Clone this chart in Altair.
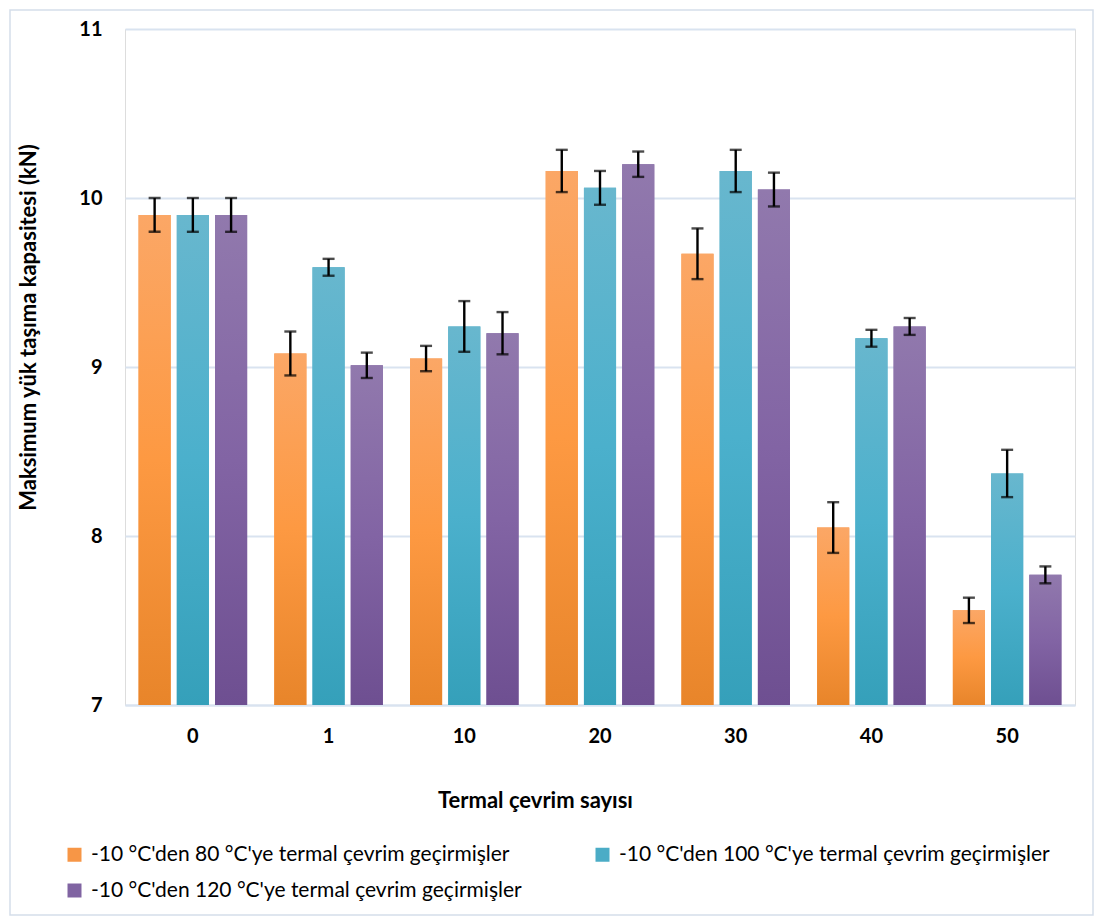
import altair as alt
import pandas as pd

groups = ["0", "1", "10", "20", "30", "40", "50"]
series = [
    "-10 °C'den 80 °C'ye termal çevrim geçirmişler",
    "-10 °C'den 100 °C'ye termal çevrim geçirmişler",
    "-10 °C'den 120 °C'ye termal çevrim geçirmişler",
]
v80 = [9.90, 9.08, 9.05, 10.16, 9.67, 8.05, 7.56]
e80 = [0.10, 0.13, 0.075, 0.125, 0.15, 0.15, 0.075]
v100 = [9.90, 9.59, 9.24, 10.06, 10.16, 9.17, 8.37]
e100 = [0.10, 0.05, 0.15, 0.10, 0.125, 0.05, 0.14]
v120 = [9.90, 9.01, 9.20, 10.20, 10.05, 9.24, 7.77]
e120 = [0.10, 0.075, 0.125, 0.075, 0.10, 0.05, 0.05]

solid = ["#F79646", "#4BACC6", "#8064A2"]
grad_stops = [
    ["#FBA766", "#FD9942", "#E8852A"],
    ["#68B7CE", "#4BB0CC", "#35A0BA"],
    ["#9179AD", "#8264A4", "#6E4F91"],
]

rows = []
for s, vals, errs in zip(series, [v80, v100, v120], [e80, e100, e120]):
    for g, v, e in zip(groups, vals, errs):
        rows.append({"group": g, "series": s, "value": v, "low": v - e, "high": v + e})
df = pd.DataFrame(rows)

FONT = "Lato"
GRID = "#D9E3F0"

x_enc = alt.X("group:N", sort=groups,
              scale=alt.Scale(paddingInner=0.2, paddingOuter=0.1),
              axis=alt.Axis(title="Termal çevrim sayısı", labelAngle=0, labelFont=FONT,
                            labelFontSize=20, labelFontWeight="bold", labelColor="#000000",
                            labelPadding=21, ticks=False, domainColor=GRID, domainWidth=2,
                            titleFont=FONT, titleFontSize=22, titleFontWeight="bold",
                            titleColor="#000000", titleX=410, titleY=95,
                            titleBaseline="middle", titleAlign="center"))
xo_enc = alt.XOffset("series:N", sort=series,
                     scale=alt.Scale(domain=series, paddingInner=0.16, paddingOuter=0))
y_scale = alt.Scale(domain=[7, 11], nice=False, zero=False)
y_enc = alt.Y("value:Q", scale=y_scale,
              axis=alt.Axis(title="Maksimum yük taşıma kapasitesi (kN)", values=[7, 8, 9, 10, 11],
                            format="d", labelFont=FONT, labelFontSize=20, labelFontWeight="bold",
                            labelColor="#000000", labelPadding=23, ticks=False, domain=False,
                            gridColor=GRID, gridWidth=2, titleFont=FONT, titleFontSize=22,
                            titleFontWeight="bold", titleColor="#000000", titleAngle=270,
                            titleX=-97, titleY=298, titleBaseline="middle",
                            titleAlign="center"))

base = alt.Chart(df)

legend_bars = base.mark_bar().encode(
    x=x_enc, xOffset=xo_enc, y=y_enc, y2=alt.datum(7),
    color=alt.Color("series:N", sort=series,
                    scale=alt.Scale(domain=series, range=solid),
                    legend=alt.Legend(title=None, orient="none", direction="horizontal",
                                      legendX=-61, legendY=815,
                                      columns=2, columnPadding=70, rowPadding=14,
                                      symbolType="square", symbolSize=196,
                                      symbolStrokeWidth=0, labelFont=FONT,
                                      labelFontSize=21, labelColor="#000000",
                                      labelLimit=700, labelOffset=6)),
)

layers = [legend_bars]
for s, stops in zip(series, grad_stops):
    grad = alt.LinearGradient(
        gradient="linear", x1=0, x2=0, y1=0, y2=1,
        stops=[alt.GradientStop(offset=0, color=stops[0]),
               alt.GradientStop(offset=0.5, color=stops[1]),
               alt.GradientStop(offset=1, color=stops[2])])
    layers.append(
        base.transform_filter(alt.datum.series == s).mark_bar(color=grad).encode(
            x=x_enc, xOffset=xo_enc, y=y_enc, y2=alt.datum(7))
    )

err_rule = base.mark_rule(color="#000000", strokeWidth=2.4).encode(
    x=x_enc, xOffset=xo_enc, y=alt.Y("low:Q", scale=y_scale), y2="high:Q")
cap_low = base.mark_tick(color="#000000", size=12, thickness=2.4).encode(
    x=x_enc, xOffset=xo_enc, y=alt.Y("low:Q", scale=y_scale))
cap_high = base.mark_tick(color="#000000", size=12, thickness=2.4).encode(
    x=x_enc, xOffset=xo_enc, y=alt.Y("high:Q", scale=y_scale))

frame = alt.Chart(pd.DataFrame({"f": [0]})).mark_rect(
    fill=None, stroke="#D5DEEA", strokeWidth=1.5).encode(
    x=alt.value(-115), x2=alt.value(968), y=alt.value(-19), y2=alt.value(886))

chart = alt.layer(*layers, err_rule, cap_low, cap_high, frame).properties(
    width=950, height=676,
    autosize=alt.AutoSizeParams(type="none"),
    padding={"left": 117, "top": 21, "right": 20, "bottom": 214},
).configure_view(stroke=None).configure(background="#FFFFFF")

chart.save("out.html", embed_options={"renderer": "svg", "actions": False})
